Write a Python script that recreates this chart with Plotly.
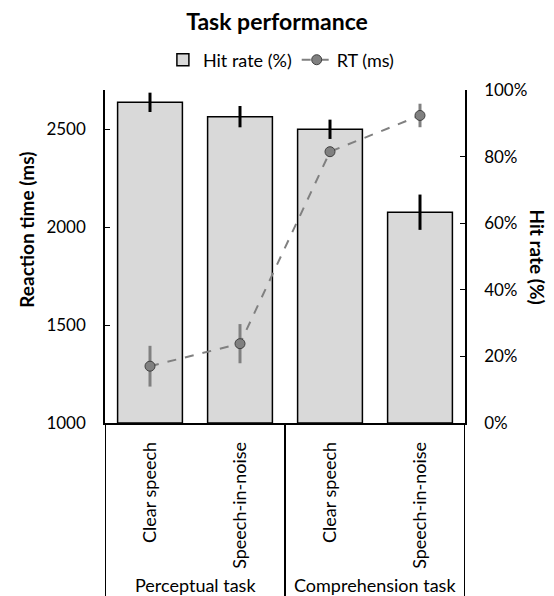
import plotly.graph_objects as go

conditions = ["Clear speech", "Speech-in-noise", "Clear speech", "Speech-in-noise"]
tasks = ["Perceptual task", "Comprehension task"]
hit_rate = [0.963, 0.920, 0.882, 0.633]
hit_err = [0.029, 0.032, 0.029, 0.053]
rt_ms = [1290, 1405, 2385, 2570]
rt_err = [104, 100, 20, 60]

FONT = "Lato"
xpos = list(range(len(conditions)))

fig = go.Figure()
fig.add_trace(go.Bar(
    x=xpos, y=hit_rate, name="Hit rate (%)", yaxis="y",
    width=0.72,
    marker=dict(color="#d9d9d9", line=dict(color="black", width=1.5)),
    error_y=dict(type="data", array=hit_err, color="black", thickness=3, width=0),
))
fig.add_trace(go.Scatter(
    x=xpos, y=rt_ms, name="RT (ms)", yaxis="y2", mode="lines+markers",
    line=dict(color="#808080", width=2, dash="dash"),
    marker=dict(size=10, color="#808080", line=dict(color="#404040", width=1)),
    error_y=dict(type="data", array=rt_err, color="#808080", thickness=3, width=0),
))

# group dividers below the x axis
for xv in [-0.5, 1.5, 3.5]:
    fig.add_shape(type="line", xref="x", yref="paper", x0=xv, x1=xv, y0=0, y1=-0.56,
                  line=dict(color="black", width=2))
for i, t in enumerate(tasks):
    fig.add_annotation(text=t, xref="x", yref="paper", x=2 * i + 0.5, y=-0.487,
                       showarrow=False, yanchor="middle",
                       font=dict(family=FONT, size=18, color="black"))

# axis titles
fig.add_annotation(text="<b>Reaction time (ms)</b>", xref="paper", yref="paper",
                   x=-0.217, y=0.58, textangle=-90, showarrow=False,
                   xanchor="center", yanchor="middle",
                   font=dict(family=FONT, size=19, color="black"))
fig.add_annotation(text="<b>Hit rate (%)</b>", xref="paper", yref="paper",
                   x=1.2, y=0.5, textangle=90, showarrow=False,
                   xanchor="center", yanchor="middle",
                   font=dict(family=FONT, size=19, color="black"))

fig.update_layout(
    width=554, height=596,
    margin=dict(l=105, r=89, t=90, b=173),
    paper_bgcolor="white", plot_bgcolor="white",
    font=dict(family=FONT, size=17, color="black"),
    title=dict(text="<b>Task performance</b>", x=0.5, xanchor="center", y=0.963,
               yanchor="middle", font=dict(family=FONT, size=23, color="black")),
    showlegend=True,
    legend=dict(orientation="h", x=0.49, xanchor="center", y=1.09, yanchor="middle",
                font=dict(family=FONT, size=18), itemwidth=30, bgcolor="rgba(0,0,0,0)"),
    xaxis=dict(range=[-0.5, 3.5], tickvals=xpos, ticktext=conditions, tickangle=-90,
               showline=True, linecolor="black", linewidth=1.5, ticks="",
               showgrid=False, zeroline=False, ticklabelstandoff=10,
               tickfont=dict(family=FONT, size=18)),
    yaxis=dict(range=[0, 1], side="right", tickvals=[0, 0.2, 0.4, 0.6, 0.8, 1.0],
               tickformat=".0%", showline=True, linecolor="black", linewidth=1.5,
               ticks="inside", ticklen=5, tickcolor="black", showgrid=False, zeroline=False,
               ticklabelstandoff=14, tickfont=dict(family=FONT, size=17)),
    yaxis2=dict(range=[1000, 2700], overlaying="y", side="left",
                tickvals=[1000, 1500, 2000, 2500], showline=True, linecolor="black",
                linewidth=1.5, ticks="inside", ticklen=5, tickcolor="black",
                showgrid=False, zeroline=False, ticklabelstandoff=14,
                tickfont=dict(family=FONT, size=17)),
)

fig.write_html("out.html", config={"displayModeBar": False},
               post_script="document.body.style.margin='0';")
